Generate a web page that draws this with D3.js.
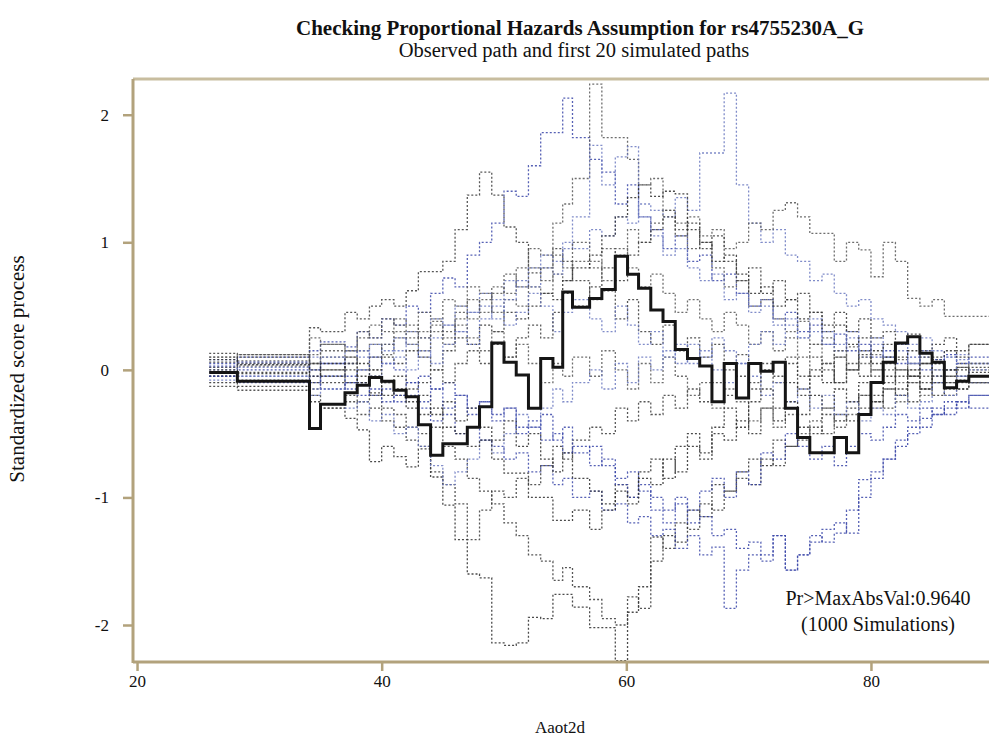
<!DOCTYPE html>
<html>
<head>
<meta charset="utf-8">
<script src="https://cdn.jsdelivr.net/npm/d3@7"></script>
<style>
  body { margin: 0; background: #fff; }
  svg { display: block; }
  text { font-family: "Liberation Serif", "DejaVu Serif", serif; fill: #111; }
</style>
</head>
<body>
<svg id="chart" width="989" height="738"></svg>
<script>
// event times (Aaot2d) where the processes jump
var ages = [25.9, 28.2, 34.1, 35, 37, 38, 39, 40, 41, 42, 43, 44, 45, 46, 47, 48,
  49, 50, 51, 52, 53, 54, 54.8, 55.6, 57, 58, 59.1, 60.1, 61, 62, 63, 64,
  65, 66, 67, 68, 69, 70, 71, 72, 73, 74, 75, 76, 77, 78, 79, 80,
  81, 82, 83, 84, 85, 86, 87, 88];
var lastAge = 89.7;

var observed = [-0.02, -0.09, -0.46, -0.27, -0.18, -0.12, -0.06, -0.09,
  -0.16, -0.21, -0.43, -0.67, -0.58, -0.58, -0.45, -0.29,
  0.21, 0.06, -0.04, -0.30, 0.09, 0.02, 0.61, 0.49,
  0.56, 0.63, 0.89, 0.75, 0.64, 0.47, 0.38, 0.16,
  0.09, 0.03, -0.25, 0.05, -0.22, 0.05, -0.01, 0.06,
  -0.30, -0.53, -0.65, -0.65, -0.53, -0.65, -0.35, -0.10,
  0.06, 0.21, 0.26, 0.13, 0.06, -0.14, -0.09, -0.05];

var sim1 = [0.13, 0.12, 0.33, 0.3, 0.45, 0.4, 0.5, 0.55,
  0.5, 0.62, 0.77, 0.77, 0.85, 1.1, 1.37, 1.55,
  1.37, 1.12, 1.0, 0.76, 0.8, 0.95, 0.85, 0.7,
  0.55, 0.62, 0.4, 0.55, 0.3, 0.2, 0.35, 0.15,
  0.25, 0.1, 0.2, 0.0, 0.12, -0.1, 0.05, -0.05,
  0.1, -0.15, -0.05, 0.05, -0.1, 0.0, 0.12, 0.0,
  0.1, -0.05, 0.05, 0.15, 0.08, 0.0, 0.05, 0.02];
var sim2 = [0.05, 0.1, 0.15, 0.22, 0.18, 0.3, 0.25, 0.4,
  0.35, 0.5, 0.45, 0.6, 0.72, 0.65, 0.9, 1.0,
  1.15, 1.4, 1.36, 1.6, 1.86, 1.86, 2.13, 1.82,
  1.65, 1.55, 1.3, 1.45, 1.2, 1.1, 0.95, 1.05,
  0.85, 0.9, 0.7, 0.75, 0.6, 0.5, 0.55, 0.4,
  0.45, 0.3, 0.35, 0.2, 0.28, 0.15, 0.2, 0.1,
  0.15, 0.05, 0.1, 0.0, 0.08, 0.12, 0.05, 0.1];
var sim3 = [-0.02, 0.03, 0.05, 0.1, 0.05, 0.15, 0.2, 0.12,
  0.25, 0.2, 0.3, 0.38, 0.3, 0.45, 0.4, 0.55,
  0.65, 0.6, 0.8, 0.95, 0.9, 1.15, 1.3, 1.5,
  2.24, 1.82, 1.82, 1.65, 1.45, 1.5, 1.25, 1.15,
  0.95, 1.0, 0.8, 0.65, 0.7, 0.5, 0.55, 0.4,
  0.3, 0.38, 0.2, 0.25, 0.1, 0.18, 0.05, 0.12,
  0.0, 0.08, -0.05, 0.05, 0.0, -0.05, 0.02, 0.0];
var sim4 = [0.08, 0.05, 0.0, 0.1, 0.05, 0.15, 0.1, 0.2,
  0.15, 0.3, 0.25, 0.4, 0.35, 0.5, 0.45, 0.6,
  0.55, 0.7, 0.65, 0.8, 0.9, 0.85, 1.0, 0.95,
  1.1, 1.05, 1.2, 1.15, 1.3, 1.25, 1.2, 1.35,
  1.25, 1.7, 1.7, 2.17, 1.45, 1.15, 1.0, 1.1,
  0.9, 0.85, 0.7, 0.75, 0.6, 0.5, 0.55, 0.4,
  0.35, 0.3, 0.2, 0.25, 0.15, 0.1, 0.12, 0.05];
var sim5 = [-0.1, -0.13, -0.25, -0.3, -0.38, -0.47, -0.72, -0.6,
  -0.68, -0.76, -0.62, -0.84, -1.06, -1.33, -1.6, -1.63,
  -2.14, -2.16, -2.14, -1.94, -1.95, -1.76, -1.76, -1.86,
  -2.02, -2.02, -2.28, -1.9, -1.7, -1.5, -1.3, -1.35,
  -1.1, -1.15, -0.9, -0.95, -0.8, -0.7, -0.75, -0.55,
  -0.6, -0.45, -0.5, -0.35, -0.4, -0.3, -0.2, -0.25,
  -0.15, -0.2, -0.1, -0.15, -0.05, -0.1, 0.0, -0.05];
var sim6 = [-0.05, -0.08, -0.15, -0.1, -0.2, -0.25, -0.18, -0.3,
  -0.35, -0.45, -0.5, -0.45, -0.6, -0.7, -0.85, -0.95,
  -1.05, -1.2, -1.3, -1.45, -1.5, -1.65, -1.55, -1.7,
  -1.8, -1.95, -2.0, -1.78, -1.87, -1.31, -1.4, -1.2,
  -1.25, -1.05, -1.1, -0.95, -0.85, -0.9, -0.7, -0.75,
  -0.6, -0.55, -0.45, -0.5, -0.35, -0.4, -0.3, -0.25,
  -0.3, -0.2, -0.25, -0.15, -0.2, -0.1, -0.15, -0.1];
var sim7 = [0.02, 0.0, -0.1, -0.05, -0.15, -0.1, -0.2, -0.15,
  -0.25, -0.2, -0.3, -0.4, -0.35, -0.5, -0.45, -0.55,
  -0.6, -0.7, -0.65, -0.8, -0.75, -0.9, -0.85, -1.0,
  -0.95, -1.1, -1.05, -1.2, -1.15, -1.3, -1.25, -1.4,
  -1.3, -1.45, -1.39, -1.87, -1.57, -1.45, -1.5, -1.3,
  -1.57, -1.45, -1.3, -1.35, -1.28, -1.1, -0.86, -0.8,
  -0.7, -0.6, -0.5, -0.45, -0.35, -0.3, -0.25, -0.2];
var sim8 = [0.1, 0.07, 0.25, 0.2, 0.15, 0.3, 0.25, 0.4,
  0.35, 0.3, 0.45, 0.4, 0.55, 0.5, 0.65, 0.6,
  0.45, 0.55, 0.5, 0.65, 0.6, 0.75, 0.7, 0.85,
  0.8, 0.95, 0.9, 1.1, 1.0, 1.15, 1.25, 1.1,
  1.2, 1.05, 1.1, 0.95, 1.0, 1.15, 1.1, 1.25,
  1.31, 1.2, 1.07, 1.07, 0.85, 1.0, 0.94, 0.73,
  1.0, 0.85, 0.56, 0.5, 0.55, 0.42, 0.42, 0.42];
var sim9 = [0.0, 0.02, 0.1, 0.05, 0.15, 0.1, 0.2, 0.15,
  0.25, 0.2, 0.1, 0.25, 0.35, 0.3, 0.45, 0.5,
  0.4, 0.55, 0.7, 0.65, 0.8, 0.75, 0.95, 1.2,
  1.76, 1.45, 1.67, 1.75, 1.2, 1.05, 0.9, 0.95,
  0.8, 0.7, 0.75, 0.55, 0.6, 0.45, 0.5, 0.35,
  0.4, 0.25, 0.3, 0.2, 0.15, 0.25, 0.1, 0.2,
  0.1, 0.15, 0.05, 0.1, -0.05, 0.0, 0.08, 0.05];
var sim10 = [-0.05, -0.02, 0.05, 0.0, 0.1, 0.05, 0.0, 0.1,
  0.05, 0.15, 0.1, 0.0, 0.15, 0.25, 0.2, 0.35,
  0.3, 0.45, 0.4, 0.5, 0.6, 0.55, 0.7, 0.8,
  0.9, 1.05, 1.2, 1.35, 1.45, 1.36, 1.4, 1.38,
  1.1, 1.0, 0.85, 0.9, 0.75, 0.6, 0.65, 0.5,
  0.55, 0.4, 0.45, 0.3, 0.35, 0.2, 0.25, 0.15,
  0.2, 0.1, 0.15, 0.05, 0.1, 0.15, 0.1, 0.2];
var sim11 = [-0.13, -0.16, -0.2, -0.3, -0.25, -0.35, -0.3, -0.4,
  -0.45, -0.55, -0.6, -0.8, -0.9, -1.05, -1.33, -1.1,
  -0.95, -1.0, -0.85, -0.9, -0.75, -0.6, -0.7, -0.55,
  -0.45, -0.5, -0.3, -0.4, -0.25, -0.35, -0.2, -0.3,
  -0.15, -0.25, -0.1, -0.2, -0.05, -0.15, 0.0, -0.1,
  0.05, -0.05, 0.1, 0.0, -0.1, 0.05, -0.05, 0.0,
  -0.1, 0.0, -0.05, -0.15, -0.1, -0.2, -0.15, -0.1];
var sim12 = [0.03, 0.06, 0.0, 0.05, -0.05, 0.0, 0.1, 0.05,
  0.0, -0.1, -0.05, -0.15, -0.1, -0.2, -0.3, -0.25,
  -0.35, -0.3, -0.45, -0.4, -0.55, -0.5, -0.65, -0.6,
  -0.75, -0.7, -0.85, -0.8, -0.95, -1.0, -1.1, -1.05,
  -1.2, -1.15, -1.3, -1.25, -1.4, -1.35, -1.45, -1.3,
  -1.57, -1.45, -1.35, -1.25, -1.2, -1.28, -1.0, -0.85,
  -0.7, -0.55, -0.45, -0.38, -0.3, -0.35, -0.25, -0.3];
var sim13 = [0.1, 0.12, 0.05, 0.15, 0.1, 0.0, 0.1, 0.2,
  0.3, 0.25, 0.15, 0.3, 0.2, 0.35, 0.25, 0.15,
  0.3, 0.1, 0.2, 0.05, -0.1, 0.05, -0.05, 0.1,
  -0.05, 0.15, 0.0, -0.15, 0.05, -0.1, 0.1, -0.05,
  -0.2, -0.1, -0.3, -0.15, -0.25, -0.4, -0.3, -0.45,
  -0.35, -0.5, -0.4, -0.3, -0.45, -0.35, -0.2, -0.3,
  -0.15, -0.25, -0.1, -0.2, -0.05, 0.0, -0.1, 0.05];
var sim14 = [-0.08, -0.05, -0.15, -0.05, -0.1, 0.0, -0.05, 0.05,
  0.1, 0.0, 0.15, 0.05, 0.2, 0.3, 0.2, 0.4,
  0.5, 0.35, 0.45, 0.6, 0.5, 0.3, 0.45, 0.55,
  0.4, 0.3, 0.5, 0.35, 0.2, 0.3, 0.1, 0.2,
  0.05, 0.15, 0.0, -0.1, 0.05, -0.05, -0.2, -0.1,
  -0.25, -0.15, -0.3, -0.2, -0.35, -0.25, -0.4, -0.3,
  -0.35, -0.2, -0.3, -0.25, -0.1, -0.2, -0.05, -0.1];
var sim15 = [0.0, -0.03, -0.1, 0.0, -0.1, -0.05, -0.2, -0.1,
  -0.2, -0.3, -0.2, -0.35, -0.25, -0.4, -0.3, -0.45,
  -0.55, -0.4, -0.6, -0.5, -0.7, -0.8, -0.65, -0.85,
  -0.95, -1.05, -0.9, -1.0, -0.8, -0.7, -0.85, -0.6,
  -0.5, -0.65, -0.45, -0.3, -0.45, -0.25, -0.15, -0.3,
  -0.1, -0.2, 0.0, -0.1, 0.1, 0.0, 0.15, 0.05,
  0.1, 0.0, -0.05, 0.05, -0.1, 0.0, -0.08, -0.02];
var sim16 = [0.06, 0.1, 0.0, -0.05, 0.05, -0.1, 0.0, -0.1,
  -0.05, -0.15, -0.1, 0.0, -0.1, 0.05, 0.15, 0.05,
  0.2, 0.1, 0.25, 0.35, 0.25, 0.45, 0.6, 0.5,
  0.65, 0.8, 0.7, 0.9, 1.0, 1.1, 1.2, 1.05,
  1.15, 0.95, 1.05, 0.85, 0.7, 0.8, 0.6, 0.7,
  0.55, 0.6, 0.45, 0.35, 0.45, 0.3, 0.4, 0.25,
  0.3, 0.2, 0.28, 0.1, 0.2, 0.25, 0.15, 0.2];
var sim17 = [-0.05, -0.1, -0.05, -0.15, -0.1, -0.2, -0.15, -0.25,
  -0.2, -0.1, -0.25, -0.15, -0.3, -0.2, -0.35, -0.25,
  -0.4, -0.3, -0.5, -0.45, -0.35, -0.55, -0.45, -0.65,
  -0.6, -0.75, -0.9, -1.0, -0.9, -1.1, -1.2, -1.0,
  -1.1, -0.95, -0.85, -1.0, -0.8, -0.9, -0.65, -0.7,
  -0.5, -0.6, -0.7, -0.6, -0.75, -0.6, -0.5, -0.55,
  -0.45, -0.35, -0.4, -0.3, -0.35, -0.25, -0.3, -0.2];
var sim18 = [0.02, 0.05, 0.12, 0.2, 0.15, 0.25, 0.35, 0.3,
  0.4, 0.35, 0.25, 0.35, 0.25, 0.4, 0.55, 0.45,
  0.6, 0.75, 0.65, 0.8, 0.7, 0.9, 0.8, 1.0,
  0.85, 0.7, 0.95, 0.8, 0.65, 0.75, 0.6, 0.45,
  0.55, 0.4, 0.3, 0.45, 0.35, 0.2, 0.3, 0.15,
  0.25, 0.1, 0.2, 0.05, 0.15, 0.0, 0.1, -0.05,
  0.05, -0.1, 0.0, -0.05, 0.05, -0.15, -0.05, -0.1];
var sim19 = [-0.02, -0.05, -0.2, -0.15, -0.3, -0.25, -0.4, -0.35,
  -0.5, -0.45, -0.6, -0.75, -0.9, -0.8, -0.7, -0.55,
  -0.65, -0.5, -0.35, -0.45, -0.3, -0.15, -0.25, -0.1,
  0.0, -0.15, 0.05, -0.1, 0.1, 0.0, 0.15, 0.05,
  0.2, 0.1, 0.25, 0.15, 0.05, 0.2, 0.3, 0.2,
  0.35, 0.25, 0.4, 0.3, 0.2, 0.3, 0.15, 0.25,
  0.1, 0.2, 0.05, 0.15, 0.0, 0.1, -0.05, 0.0];
var sim20 = [0.08, 0.04, -0.05, 0.05, 0.0, -0.1, -0.05, -0.2,
  -0.15, -0.25, -0.35, -0.3, -0.45, -0.5, -0.6, -0.55,
  -0.7, -0.81, -0.81, -1.0, -1.0, -1.18, -1.18, -1.1,
  -1.25, -1.1, -0.95, -1.05, -0.85, -0.9, -0.7, -0.8,
  -0.6, -0.7, -0.5, -0.55, -0.4, -0.5, -0.3, -0.4,
  -0.25, -0.35, -0.2, -0.3, -0.15, -0.25, -0.1, -0.2,
  -0.05, -0.15, 0.0, -0.1, 0.05, -0.05, 0.02, -0.05];

var simPaths = [sim1, sim2, sim3, sim4, sim5, sim6, sim7, sim8, sim9, sim10,
  sim11, sim12, sim13, sim14, sim15, sim16, sim17, sim18, sim19, sim20];
var simColors = ["#3a3a3a", "#3845a8", "#555555", "#6a78c0", "#2b2b2b"];

var xTicks = [20, 40, 60, 80];
var yTicks = [-2, -1, 0, 1, 2];

// note: "top" is taken by window.top, so use plot* names
var svg = d3.select("#chart"),
  plotLeft = 133, plotRight = 989, plotTop = 79, plotBottom = 662,
  axisColor = "#b2a27c";

var x = d3.scaleLinear().domain([19.67, 89.65]).range([plotLeft, plotRight]);
var y = d3.scaleLinear().domain([-2.29, 2.28]).range([plotBottom, plotTop]);

svg.append("rect").attr("width", 989).attr("height", 738).attr("fill", "#fff");

svg.append("defs").append("clipPath").attr("id", "plotclip")
  .append("rect").attr("x", plotLeft).attr("y", plotTop)
  .attr("width", plotRight - plotLeft).attr("height", plotBottom - plotTop);

function toPoints(vals) {
  var pts = ages.map(function (a, i) { return [a, vals[i]]; });
  pts.push([lastAge + 1, vals[vals.length - 1]]);
  return pts;
}

var line = d3.line()
  .curve(d3.curveStepAfter)
  .x(function (d) { return x(d[0]); })
  .y(function (d) { return y(d[1]); });

var plot = svg.append("g").attr("clip-path", "url(#plotclip)");

plot.selectAll(".sim")
  .data(simPaths)
  .enter().append("path")
  .attr("class", "sim")
  .attr("d", function (d) { return line(toPoints(d)); })
  .attr("fill", "none")
  .attr("stroke", function (d, i) { return simColors[i % simColors.length]; })
  .attr("stroke-width", 1.3)
  .attr("stroke-dasharray", "2,2")
  .attr("opacity", 0.85);

plot.append("path")
  .attr("d", line(toPoints(observed)))
  .attr("fill", "none")
  .attr("stroke", "#151515")
  .attr("stroke-width", 3);

// frame
svg.append("line")
  .attr("x1", plotLeft).attr("x2", plotRight).attr("y1", plotTop).attr("y2", plotTop)
  .attr("stroke", "#c8bd9f").attr("stroke-width", 3);

var xAxis = svg.append("g")
  .attr("transform", "translate(0," + plotBottom + ")")
  .call(d3.axisBottom(x).tickValues(xTicks).tickSize(9).tickPadding(4)
    .tickFormat(function (d) { return String(d); }));
var yAxis = svg.append("g")
  .attr("transform", "translate(" + plotLeft + ",0)")
  .call(d3.axisLeft(y).tickValues(yTicks).tickSize(10).tickPadding(14)
    .tickFormat(function (d) { return String(d); }));

[xAxis, yAxis].forEach(function (g) {
  g.select(".domain").attr("stroke", axisColor).attr("stroke-width", 3);
  g.selectAll(".tick line").attr("stroke", axisColor).attr("stroke-width", 2.5);
  g.selectAll(".tick text")
    .attr("font-family", "Liberation Serif, serif")
    .attr("font-size", 17).attr("fill", "#111");
});
xAxis.select(".domain").attr("d", "M" + plotLeft + ",0H" + plotRight);
yAxis.select(".domain").attr("d", "M0," + plotTop + "V" + (plotBottom + 1));

// titles
svg.append("text")
  .attr("x", 580).attr("y", 35)
  .attr("text-anchor", "middle")
  .attr("font-size", 21).attr("font-weight", "bold")
  .text("Checking Proportional Hazards Assumption for rs4755230A_G");
svg.append("text")
  .attr("x", 574).attr("y", 57)
  .attr("text-anchor", "middle")
  .attr("font-size", 20.5)
  .text("Observed path and first 20 simulated paths");

svg.append("text")
  .attr("transform", "translate(24,369) rotate(-90)")
  .attr("text-anchor", "middle")
  .attr("font-size", 21)
  .text("Standardized score process");

svg.append("text")
  .attr("x", 560).attr("y", 733)
  .attr("text-anchor", "middle")
  .attr("font-size", 17)
  .text("Aaot2d");

svg.append("text")
  .attr("x", 878).attr("y", 605)
  .attr("text-anchor", "middle")
  .attr("font-size", 20)
  .text("Pr>MaxAbsVal:0.9640");
svg.append("text")
  .attr("x", 878).attr("y", 631)
  .attr("text-anchor", "middle")
  .attr("font-size", 20)
  .text("(1000 Simulations)");
</script>
</body>
</html>
